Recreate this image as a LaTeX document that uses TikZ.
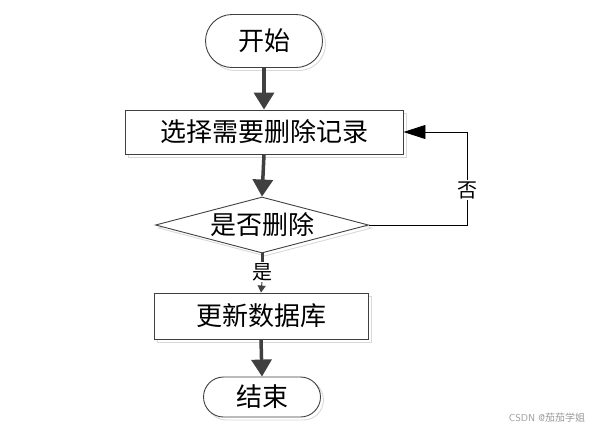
\documentclass[tikz,border=0pt]{standalone}
\usepackage{fontspec}
\newfontfamily\cjk{Noto Sans CJK SC}
\usetikzlibrary{arrows.meta,shapes.geometric,shapes.misc,shadows}
\definecolor{arr}{HTML}{404040}
\tikzset{
  base/.style={draw=black!75, line width=0.9pt, fill=white, font=\cjk\fontsize{26}{26}\selectfont, inner sep=0pt,
    copy shadow={shadow xshift=3pt, shadow yshift=-3pt, draw=black!15, fill=white}},
  term/.style={base, rounded rectangle, minimum width=117pt},
  proc/.style={base, rectangle},
  dec/.style={base, diamond, aspect=3.8},
  flow/.style={draw=arr, line width=3.5pt, -{Triangle[width=20pt,length=17pt]}},
  back/.style={draw=black, line width=0.9pt, -{Triangle[width=14pt,length=22pt]}},
  lbl/.style={font=\cjk\fontsize{20}{20}\selectfont, fill=white, inner sep=1pt}
}
\begin{document}
\begin{tikzpicture}[x=1pt,y=-1pt]
\useasboundingbox[fill=white] (0,0) rectangle (599,432);
\node[term, minimum height=53pt] (start) at (264,41) {开始};
\node[proc, minimum width=278pt, minimum height=44pt] (sel) at (264,132) {选择需要删除记录};
\node[dec, minimum width=213pt, minimum height=56pt] (chk) at (262,225) {是否删除};
\node[proc, minimum width=214pt, minimum height=46pt] (upd) at (261,316) {更新数据库};
\node[term, minimum height=40pt] (end) at (262,397) {结束};
\coordinate (c1) at (467,225);
\coordinate (c2) at (467,132);
\draw[flow] (start.south) -- (sel.north);
\draw[flow] (sel.south) -- (chk.north);
\draw[back] (chk.east) -- (c1) -- (c2) -- (sel.east);
\node[lbl] (no) at (467,190) {否};
\coordinate (ye) at (262,264);
\draw[draw=arr, line width=3pt] (chk.south) -- (ye);
\node[lbl] (yes) at (262,272) {是};
\draw[draw=arr, line width=1pt, -{Triangle[width=8pt,length=7pt]}] (yes.south) -- (upd.north);
\draw[flow] (upd.south) -- (end.north);
\node[font=\sffamily\fontsize{10}{10}\selectfont, text=black!40] (wm) at (547,418) {CSDN @{\cjk 茄茄学姐}};
\end{tikzpicture}
\end{document}
